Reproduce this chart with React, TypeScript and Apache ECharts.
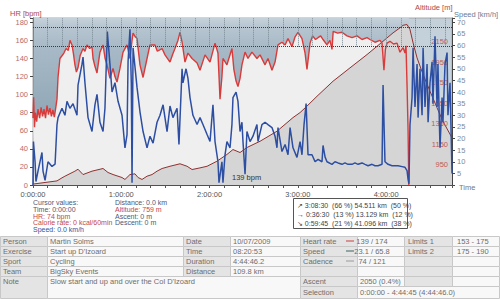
import React, { useEffect, useRef } from 'react';
import * as echarts from 'echarts';

// [minutes, bpm]
const heartRate: [number, number][] = [
  [0, 74], [0.4, 97], [1.0, 64], [1.6, 80], [2.5, 70], [3.4, 84], [4.5, 74], [5.5, 86], [6.5, 76], [7.5, 84],
  [8.5, 74], [9.5, 88], [10.5, 78], [11.5, 85], [12.5, 76], [13.5, 83], [14.5, 75], [15.5, 86], [16.3, 95],
  [17, 119], [18.3, 140], [19.7, 143], [21, 146], [22.5, 151], [24, 149], [25.1, 160], [26.5, 155], [27.5, 145],
  [28.5, 133], [29.5, 125], [30.6, 130], [32, 143], [34, 151], [35.3, 148], [36.7, 155], [38.5, 151], [40.1, 153],
  [40.8, 140], [42, 132], [43.5, 124], [45.5, 147], [47.6, 155], [49, 140], [50.3, 133], [52.3, 118], [54.4, 129],
  [55.7, 120], [57.1, 114], [59.1, 129], [61.2, 147], [63.9, 155], [65.9, 140], [67.3, 160], [68, 168], [69.5, 164],
  [70.7, 162], [72.7, 133], [74.8, 119], [77.5, 140], [79.5, 155], [82.9, 155], [84.5, 148], [87.7, 151], [89.7, 144],
  [93.1, 136], [95, 145], [96.5, 151], [98.5, 160], [99.9, 169], [101.3, 158], [103.3, 136], [105.3, 146], [108.1, 140],
  [111.5, 135], [113.5, 127], [116.9, 144], [120.3, 136], [123.7, 157], [125.7, 146], [127.1, 95], [128.4, 120],
  [129.1, 140], [131.8, 133], [135.2, 151], [136.5, 128], [138, 115], [139.3, 109], [140.7, 118], [142, 133],
  [144.1, 147], [146.1, 140], [148.8, 147], [152.2, 140], [154.3, 144], [157.7, 133], [159.7, 140], [162.4, 127],
  [164.5, 136], [166.5, 155], [169.2, 158], [171.3, 155], [173.3, 162], [176, 153], [178.1, 164], [180.1, 169],
  [182.8, 162], [184.9, 146], [186.2, 128], [188.3, 157], [190, 165], [192, 161], [193.7, 163], [195.5, 165],
  [197.1, 161], [199.8, 155], [201.8, 160], [203.2, 150], [204, 170], [207, 168], [210, 169], [213.4, 165],
  [216.8, 163], [220.2, 165], [223.6, 161], [227, 163], [229, 161], [232.4, 158], [235.8, 160], [237.2, 157],
  [238.5, 127], [239.5, 150], [240.6, 157], [242.6, 159], [245, 156], [247.4, 157], [249.4, 147], [251.5, 152],
  [252.8, 146], [253.5, 154], [254.2, 110], [254.9, 60], [255.4, 0],
];

// [minutes, km/h]
const speed: [number, number][] = [
  [0, 0], [0.3, 18.7], [1.4, 10], [2, 1.5], [3.4, 6], [6.1, 14], [6.8, 6], [8.2, 2], [10.2, 10], [12.9, 8], [15, 9],
  [16.3, 26], [17, 29], [19.7, 33], [21.7, 30], [23.1, 36], [25.1, 33], [27.2, 35], [29.9, 30], [30.6, 43], [33.3, 52],
  [34, 55], [35.3, 44], [37.4, 29], [40.1, 23], [42.1, 34.5], [43.5, 39], [45.5, 27], [47.6, 23], [48.9, 33], [50.5, 66],
  [52.3, 52], [53.7, 40], [55.7, 44], [57.8, 36], [60.5, 30], [62.5, 16], [63.9, 21.7], [64.6, 53], [65.9, 67],
  [66.8, 44], [67.3, 1], [68, 59], [70.7, 42], [72.7, 31.5], [74.8, 23], [77.5, 16], [79.5, 21], [81.6, 18], [84.3, 27],
  [86.3, 30], [88.4, 34.5], [91.1, 23], [93.1, 34], [95.1, 29], [97.9, 33], [99.2, 17.4], [101.3, 50], [101.9, 44],
  [104, 50], [105.3, 46], [106.7, 37.6], [108.7, 30], [111.5, 26], [113.5, 29], [115.5, 26], [118.3, 21.7],
  [120.3, 18.7], [122.3, 34.5], [123.7, 18.7], [125.7, 10], [126.4, 1], [128.4, 10], [129.1, 1], [130.5, 13],
  [131.8, 18.7], [133.9, 16], [135.2, 26], [135.9, 37.6], [138, 40], [139.3, 36], [140.7, 23], [142, 27], [142.7, 18.7],
  [144.1, 4.6], [145.4, 23], [147.5, 18.7], [149.5, 21], [152.2, 26], [152.9, 18.7], [155.6, 26], [157.7, 27],
  [159.7, 26], [162.4, 24.7], [164.5, 21], [165.8, 16], [166.5, 24.7], [169.2, 14.4], [171.3, 17.4], [173.3, 13],
  [174.7, 24.7], [176.7, 16], [179.4, 11.9], [181.5, 18.7], [182.8, 13], [184.2, 26], [185.6, 35], [186.9, 13],
  [189.6, 13], [191.7, 10], [193.7, 11], [196.4, 10], [197.1, 17], [198.5, 12], [199.8, 10], [203.2, 8.9], [205.2, 10],
  [207.3, 9.5], [210, 8.9], [212, 9.5], [214.1, 8.9], [216.8, 8.9], [218.8, 9.5], [220.9, 8.9], [223.6, 9.5],
  [225.6, 8.9], [227.7, 8.3], [230.4, 8.9], [232.4, 8.3], [234.5, 8.3], [237.2, 8.9], [237.9, 43], [239.2, 10],
  [241.3, 8.9], [244, 8.3], [246, 8.3], [248.1, 8.3], [250.8, 7.9], [252.8, 7.6], [254.2, 6.2], [254.9, 2.4],
  [255.5, 0.5], [256.2, 26], [257.6, 37.6], [258.3, 59], [259.6, 33.6], [261, 52], [261.7, 29], [263, 50], [264.4, 30],
  [265.1, 59], [266.4, 33.6], [267.8, 52], [268.5, 27], [269.8, 44], [271.2, 53], [271.8, 35], [273.2, 64],
  [274.6, 33.6], [275.2, 52], [276.6, 16], [278, 37.6], [278.6, 27], [280, 52], [281.4, 57], [282, 30], [283.4, 44],
  [284.75, 5],
];

// [minutes, m]
const altitude: [number, number][] = [
  [0, 759], [16.3, 790], [19.7, 820], [21.7, 836], [28.5, 885], [30.6, 904], [34, 852], [40.1, 885], [47.6, 911],
  [51, 872], [54.4, 852], [60.5, 823], [62.5, 804], [65.9, 852], [69.3, 859], [71.4, 823], [74.1, 804], [77.5, 836],
  [80.9, 852], [84.3, 885], [87.7, 911], [93.1, 933], [99.9, 957], [104.7, 933], [108.1, 901], [113.5, 917],
  [118.3, 933], [125, 982], [131.8, 1048], [135.9, 1096], [140.7, 1067], [145.4, 1116], [154.3, 1177], [165.8, 1275],
  [176.7, 1408], [181.5, 1457], [186.2, 1520], [193, 1616], [203.9, 1763], [215.4, 1893], [227, 2023], [237.9, 2153],
  [244.7, 2235], [249.4, 2284], [251.5, 2309], [254.2, 2316], [256.2, 2267], [258.3, 2137], [261, 1991], [265.1, 1828],
  [269.8, 1665], [274.6, 1503], [278.6, 1372], [284.75, 1210],
];

const hrLimits = [153, 175];
const totalMinutes = 284.75;

const cursorLeft = [
  { text: 'Cursor values:', color: '#4b5a78' },
  { text: 'Time: 0:00:00', color: '#4b5a78' },
  { text: 'HR: 74 bpm', color: '#c24848' },
  { text: 'Calorie rate: 0 kcal/60min', color: '#c24848' },
  { text: 'Speed: 0.0 km/h', color: '#3553a6' },
];
const cursorRight = [
  { text: 'Distance: 0.0 km', color: '#4b5a78' },
  { text: 'Altitude: 759 m', color: '#c24848' },
  { text: 'Ascent: 0 m', color: '#4b5a78' },
  { text: 'Descent: 0 m', color: '#4b5a78' },
];
const slopeLines = [
  '\u2197 3:08:30  (66 %) 54.511 km  (50 %)',
  '\u2192 0:36:30  (13 %) 13.129 km  (12 %)',
  '\u2198 0:59:45  (21 %) 41.096 km  (38 %)',
];
const tableLeft = [
  ['Person', 'Martin Solms', 'Date', '10/07/2009'],
  ['Exercise', "Start up D'Izoard", 'Time', '08:20:53'],
  ['Sport', 'Cycling', 'Duration', '4:44:46.2'],
  ['Team', 'BigSky Events', 'Distance', '109.8 km'],
];
const noteRow = ['Note', "Slow start and up and over the Col D'Izoard"];
const tableRight = [
  ['Heart rate', '139 / 174', 'Limits 1', '153 - 175'],
  ['Speed', '23.1 / 65.8', 'Limits 2', '175 - 190'],
  ['Cadence', '74 / 121', '', ''],
  ['', '', '', ''],
  ['Ascent', '2050 (0.4%)', '', ''],
];
const selectionRow = ['Selection', '0:00:00 - 4:44:45 (4:44:46.0)'];
const seriesMarkColors = ['#d03c3c', '#3f6464', '#9a9a9a'];

const FONT = "'Liberation Sans', Arial, 'DejaVu Sans', sans-serif";

function buildGraphic() {
  const g: any[] = [];
  const txt = (x: number, y: number, text: string, fill: string, size = 7, align = 'left') =>
    g.push({
      type: 'text', x, y, z: 100, silent: true,
      style: { text, fill, fontSize: size, fontFamily: FONT, align, verticalAlign: 'middle' },
    });
  const cell = (x0: number, x1: number, y0: number, y1: number, fill: string) =>
    g.push({
      type: 'rect', z: 90, silent: true,
      shape: { x: x0 + 0.5, y: y0 + 0.5, width: x1 - x0, height: y1 - y0 },
      style: { fill, stroke: '#c8c8c8', lineWidth: 1 },
    });

  // axis titles
  txt(10, 13.5, 'HR [bpm]', '#b04848', 7.5);
  txt(415, 7, 'Altitude [m]', '#b04848', 7.5);
  txt(454, 14, 'Speed [km/h]', '#6a7e98', 7.5);
  txt(459, 187.5, 'Time', '#777777', 7.5);
  txt(232, 177, '139 bpm', '#333333', 7.5);

  cursorLeft.forEach((l, i) => txt(33, 202.7 + i * 6.7, l.text, l.color, 7));
  cursorRight.forEach((l, i) => txt(115, 202.7 + i * 6.7, l.text, l.color, 7));

  g.push({
    type: 'rect', z: 90, silent: true,
    shape: { x: 293.5, y: 198.5, width: 114, height: 30 },
    style: { fill: '#ffffff', stroke: '#555555', lineWidth: 1 },
  });
  slopeLines.forEach((s, i) => txt(297, 205 + i * 9, s, '#444444', 7));

  const LBL = '#e4e4e4';
  const VAL = '#f8f8f8';
  const TC = '#6e6e6e';
  const rowY = [236, 246, 256, 266, 276, 286, 298];
  const colX = [0, 47, 183, 230, 300, 357, 404, 452, 499];

  tableLeft.forEach((r, i) => {
    const y0 = rowY[i], y1 = rowY[i + 1];
    cell(colX[0], colX[1], y0, y1, LBL);
    cell(colX[1], colX[2], y0, y1, VAL);
    cell(colX[2], colX[3], y0, y1, LBL);
    cell(colX[3], colX[4], y0, y1, VAL);
    const cy = (y0 + y1) / 2;
    txt(colX[0] + 3, cy, r[0], TC, 7.5);
    txt(colX[1] + 3, cy, r[1], TC, 7.5);
    txt(colX[2] + 3, cy, r[2], TC, 7.5);
    txt(colX[3] + 3, cy, r[3], TC, 7.5);
  });
  cell(colX[0], colX[1], rowY[4], rowY[6], LBL);
  cell(colX[1], colX[4], rowY[4], rowY[6], VAL);
  txt(colX[0] + 3, rowY[4] + 5, noteRow[0], TC, 7.5);
  txt(colX[1] + 3, rowY[4] + 5, noteRow[1], TC, 7.5);

  tableRight.forEach((r, i) => {
    const y0 = rowY[i], y1 = rowY[i + 1];
    cell(colX[4], colX[5], y0, y1, LBL);
    cell(colX[5], colX[6], y0, y1, VAL);
    cell(colX[6], colX[7], y0, y1, LBL);
    cell(colX[7], colX[8], y0, y1, VAL);
    const cy = (y0 + y1) / 2;
    txt(colX[4] + 3, cy, r[0], TC, 7.5);
    if (i < 3) {
      txt(372, cy, r[1], TC, 7.5, 'center');
      g.push({
        type: 'line', z: 100, silent: true,
        shape: { x1: 346, y1: cy, x2: 354, y2: cy },
        style: { stroke: seriesMarkColors[i], lineWidth: 1 },
      });
    } else {
      txt(360, cy, r[1], TC, 7.5);
    }
    txt(colX[6] + 4, cy, r[2], TC, 7.5);
    txt(colX[7] + 5, cy, r[3], TC, 7.5);
  });
  cell(colX[4], colX[5], rowY[5], rowY[6], LBL);
  cell(colX[5], colX[8], rowY[5], rowY[6], VAL);
  txt(colX[4] + 3, (rowY[5] + rowY[6]) / 2, selectionRow[0], TC, 7.5);
  txt(360, (rowY[5] + rowY[6]) / 2, selectionRow[1], TC, 7.5);
  return g;
}

function fmtTime(v: number) {
  return `${Math.round(v / 60)}:00:00`;
}

export default function App() {
  const ref = useRef<HTMLDivElement>(null);
  useEffect(() => {
    const chart = echarts.init(ref.current!, undefined, { renderer: 'svg', width: 500, height: 299 });
    const verticalGrid: any[] = [];
    for (let t = 10; t < totalMinutes; t += 10) {
      verticalGrid.push([{ coord: [t, hrLimits[0]] }, { coord: [t, 184.8] }]);
    }
    const option: any = {
      animation: false,
      backgroundColor: '#ffffff',
      textStyle: { fontFamily: FONT },
      grid: {
        left: 33, right: 48, top: 18, bottom: 114, show: true,
        borderColor: '#a8a8a8', borderWidth: 1,
        backgroundColor: new echarts.graphic.LinearGradient(0, 18, 0, 185, [
          { offset: 0, color: '#c3d0da' },
          { offset: 0.3, color: '#c6d3dc' },
          { offset: 1, color: '#e1e7eb' },
        ], true),
      },
      xAxis: {
        type: 'value', min: 0, max: totalMinutes, interval: 10,
        axisLine: { show: true, lineStyle: { color: '#2a52a8', width: 1 } },
        axisTick: { show: true, length: 3, lineStyle: { color: '#555' } },
        axisLabel: {
          color: '#555', fontSize: 7.5, margin: 5, fontFamily: FONT,
          formatter: (v: number) => (v % 60 === 0 ? fmtTime(v) : ''),
        },
        splitLine: { show: false },
      },
      yAxis: [
        {
          type: 'value', min: 0, max: 184.8, interval: 20, position: 'left',
          axisLine: { show: true, lineStyle: { color: '#444' } },
          axisTick: { show: true, length: 3, lineStyle: { color: '#444' } },
          axisLabel: {
            color: '#b86a6a', fontSize: 7.5, margin: 5, fontFamily: FONT,
            formatter: (v: number) => (v % 20 === 0 ? String(v) : ''),
          },
          splitLine: { show: false },
        },
        {
          type: 'value', min: 0, max: 71.85, interval: 5, position: 'right',
          axisLine: { show: true, lineStyle: { color: '#444' } },
          axisTick: { show: true, length: 3, lineStyle: { color: '#444' } },
          axisLabel: {
            color: '#7d8b99', fontSize: 7.5, margin: 5, fontFamily: FONT,
            formatter: (v: number) => (v > 0 && v % 5 === 0 ? String(v) : ''),
          },
          splitLine: { show: false },
        },
        {
          type: 'value', min: 750, max: 2380, interval: 200, position: 'right', z: 3,
          axisLine: { show: false }, axisTick: { show: false }, splitLine: { show: false },
          axisLabel: {
            inside: true, color: '#c25a5a', fontSize: 7.5, margin: 4, fontFamily: FONT,
            formatter: (v: number) => (v > 800 && v < 2200 && (v - 750) % 200 === 0 ? String(v) : ''),
          },
        },
      ],
      series: [
        {
          name: 'HR above', type: 'line', data: heartRate, yAxisIndex: 0, z: 1,
          showSymbol: false, symbol: 'none', silent: true,
          lineStyle: { width: 0, opacity: 0 },
          areaStyle: {
            origin: 'end', opacity: 1,
            color: new echarts.graphic.LinearGradient(0, 18, 0, 185, [
              { offset: 0, color: '#c6d2db' },
              { offset: 0.05, color: '#b7c6d1' },
              { offset: 0.18, color: '#a7b9c6' },
              { offset: 0.55, color: '#93a9b8' },
              { offset: 1, color: '#8ba2b2' },
            ], true),
          },
        },
        {
          name: 'HR below', type: 'line', data: heartRate, yAxisIndex: 0, z: 1,
          showSymbol: false, symbol: 'none', silent: true,
          lineStyle: { width: 0, opacity: 0 },
          areaStyle: { origin: 'start', opacity: 1, color: '#efefef' },
        },
        {
          name: 'Altitude', type: 'line', data: altitude, yAxisIndex: 2, z: 2,
          showSymbol: false, symbol: 'none', silent: true,
          lineStyle: { color: '#8e3030', width: 1 },
          areaStyle: { origin: 'start', opacity: 1, color: '#d5d5d5' },
        },
        {
          name: 'HR', type: 'line', data: heartRate, yAxisIndex: 0, z: 3,
          showSymbol: false, symbol: 'none', silent: true,
          lineStyle: { color: '#d93b3b', width: 1.4 },
          markLine: {
            silent: true, symbol: ['none', 'none'], label: { show: false },
            lineStyle: { type: 'dotted', color: '#7b8b97', width: 1 },
            data: [
              ...verticalGrid,
              { yAxis: hrLimits[0], lineStyle: { type: 'dotted', color: '#3c3c3c', width: 1 } },
              { yAxis: hrLimits[1], lineStyle: { type: 'dotted', color: '#3c3c3c', width: 1 } },
            ],
          },
        },
        {
          name: 'Speed', type: 'line', data: speed, yAxisIndex: 1, z: 4,
          showSymbol: false, symbol: 'none', silent: true,
          lineStyle: { color: '#2d4fa3', width: 1.5 },
        },
        {
          name: 'bar', type: 'line', data: [[0, 0]], yAxisIndex: 0, z: 5,
          showSymbol: false, symbol: 'none', silent: true, lineStyle: { width: 0, opacity: 0 },
          markArea: {
            silent: true,
            itemStyle: { color: '#2a52a8', opacity: 1 },
            data: [[{ xAxis: 0, yAxis: 0 }, { xAxis: totalMinutes, yAxis: 4.4 }]],
          },
        },
      ],
      graphic: buildGraphic(),
    };
    chart.setOption(option);
    return () => chart.dispose();
  }, []);
  return <div ref={ref} style={{ position: 'absolute', left: 0, top: 0, width: 500, height: 299 }} />;
}
